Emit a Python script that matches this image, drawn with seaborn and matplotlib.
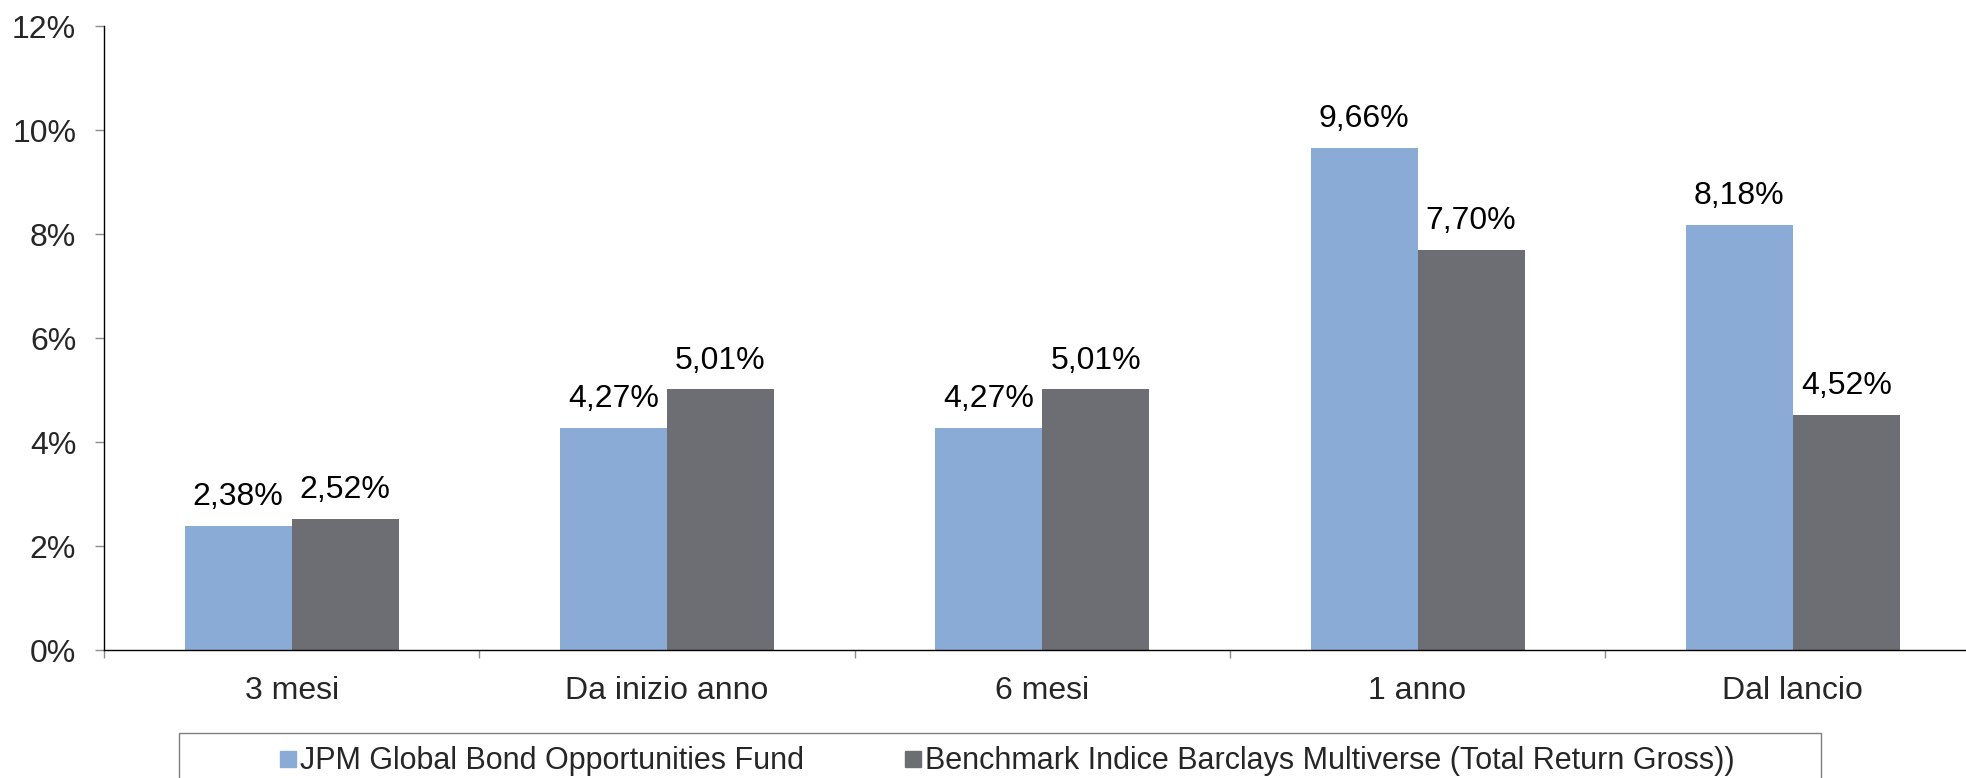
import matplotlib
matplotlib.use("Agg")
import matplotlib.pyplot as plt
from matplotlib.lines import Line2D
from matplotlib.patches import Rectangle
from matplotlib.ticker import FixedLocator, FuncFormatter
import pandas as pd
import seaborn as sns

# Rendimenti per periodo
periodi = ["3 mesi", "Da inizio anno", "6 mesi", "1 anno", "Dal lancio"]
fondo = [2.38, 4.27, 4.27, 9.66, 8.18]
benchmark = [2.52, 5.01, 5.01, 7.70, 4.52]
serie = [
    "JPM Global Bond Opportunities Fund",
    "Benchmark Indice Barclays Multiverse (Total Return Gross))",
]
colori = ["#8AABD6", "#6D6E73"]
y_ticks = [0, 2, 4, 6, 8, 10, 12]

df = pd.DataFrame({
    "periodo": periodi * 2,
    "valore": fondo + benchmark,
    "serie": [serie[0]] * len(periodi) + [serie[1]] * len(periodi),
})

sns.set_style("white")
plt.rcParams["font.family"] = ["Liberation Sans", "DejaVu Sans"]
FS = 23
FS_LEG = 22

W, H = 1966, 778
fig = plt.figure(figsize=(W / 100, H / 100), dpi=100)
ax = fig.add_axes([104 / W, 128 / H, 1876.5 / W, 624 / H])

sns.barplot(data=df, x="periodo", y="valore", hue="serie", hue_order=serie,
            order=periodi, palette=colori, saturation=1, width=0.57, gap=0,
            dodge=True, legend=False, ax=ax, linewidth=0)

valori = [fondo, benchmark]
for cont, vals in zip(ax.containers, valori):
    ax.bar_label(cont, labels=[f"{v:.2f}%".replace(".", ",") for v in vals],
                 padding=10, fontsize=FS, color="black")

ax.set_xlim(-0.5, len(periodi) - 0.5)
ax.set_ylim(0, 12)
ax.yaxis.set_major_locator(FixedLocator(y_ticks))
ax.yaxis.set_major_formatter(FuncFormatter(lambda v, p: f"{v:.0f}%"))
ax.set_xlabel("")
ax.set_ylabel("")

for s in ["top", "right"]:
    ax.spines[s].set_visible(False)
for s in ["left", "bottom"]:
    ax.spines[s].set_color("black")
    ax.spines[s].set_linewidth(1.0)

ax.tick_params(axis="y", which="major", length=6.5, width=1, color="#8C8C8C",
               pad=13.5, labelsize=FS, left=True, direction="out")
ax.tick_params(axis="x", which="major", length=0, pad=19, labelsize=FS)
ax.set_xticks([i - 0.5 for i in range(len(periodi) + 1)], minor=True)
ax.tick_params(axis="x", which="minor", length=6, width=1, color="#8C8C8C",
               bottom=True, direction="out")

# Riquadro della legenda
fig.patches.append(Rectangle((179 / W, (778 - 733) / H - 0.2), (1821 - 179) / W, 0.2,
                             transform=fig.transFigure, facecolor="white",
                             edgecolor="#7F7F7F", linewidth=1.0, clip_on=False))

handles = [Line2D([], [], linestyle="none", marker="s", markersize=12,
                  markerfacecolor=c, markeredgecolor=c) for c in colori]
fig.legend(handles, serie, loc="center left",
           bbox_to_anchor=(280 / W, (778 - 761.5) / H), ncol=2, frameon=False,
           fontsize=FS_LEG, handlelength=0.55, handletextpad=0.1,
           columnspacing=3.3, borderpad=0, borderaxespad=0)

fig.savefig("out.png", dpi=100)
